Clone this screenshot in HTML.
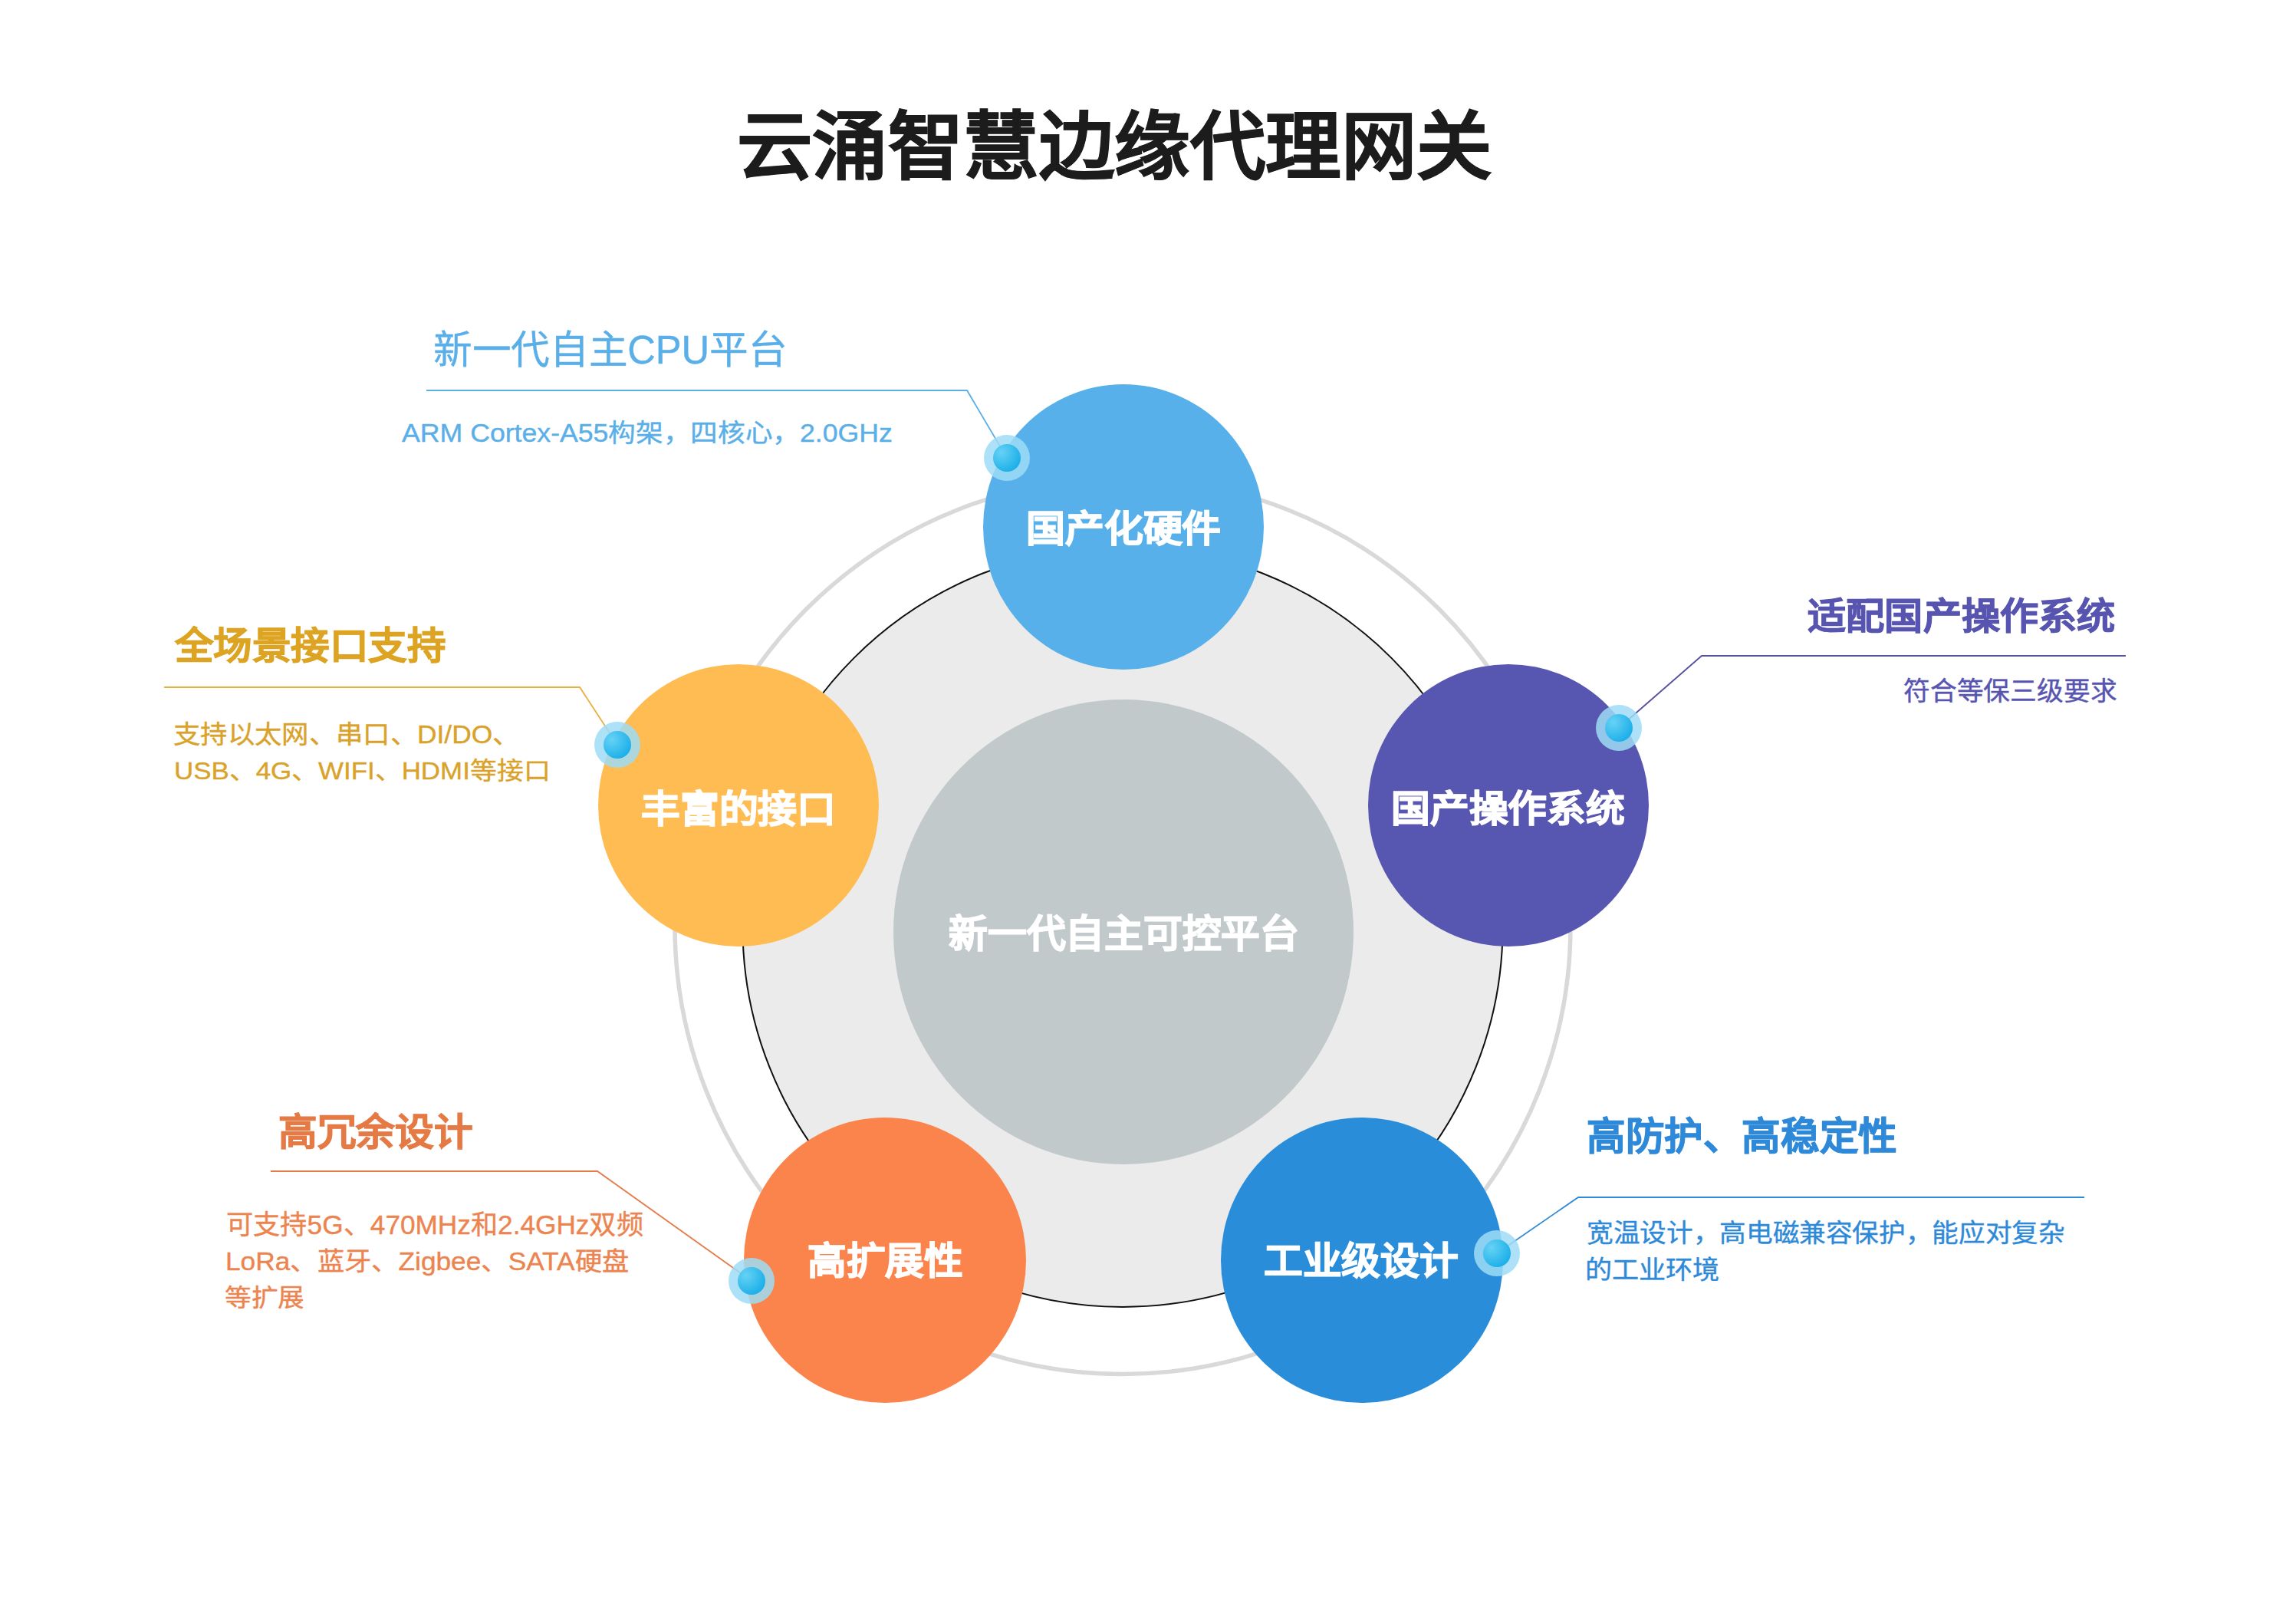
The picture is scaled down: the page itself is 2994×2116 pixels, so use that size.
<!DOCTYPE html>
<html lang="zh-CN"><head><meta charset="utf-8">
<style>
html,body{margin:0;padding:0;background:#fff;}
body{width:2994px;height:2116px;position:relative;overflow:hidden;font-family:"Liberation Sans",sans-serif;}
svg{position:absolute;left:0;top:0;}
.t{position:absolute;white-space:nowrap;line-height:1;transform-origin:0 0;}
</style></head>
<body>
<svg width="2994" height="2116" viewBox="0 0 2994 2116">
  <defs>
    <radialGradient id="dotg" cx="0.3" cy="0.3" r="0.8">
      <stop offset="0" stop-color="#66d2f5"/>
      <stop offset="1" stop-color="#17ade8"/>
    </radialGradient>
  </defs>
  <!-- outer ring -->
  <circle cx="1464" cy="1207.5" r="584" fill="none" stroke="#d9d9d9" stroke-width="5.5"/>
  <!-- light disc -->
  <circle cx="1464" cy="1208.3" r="495.6" fill="#ebebeb" stroke="#111" stroke-width="2"/>
  <!-- inner disc -->
  <ellipse cx="1465" cy="1215" rx="300" ry="303" fill="#c2c9cb"/>
  <!-- connector lines -->
  <g fill="none" stroke-width="1.8">
    <polyline points="556,509 1261,509 1313,597" stroke="#5aafe8"/>
    <polyline points="214,896 756,896 805,971" stroke="#e9b040"/>
    <polyline points="2772,855 2219,855 2111,949" stroke="#55519f"/>
    <polyline points="353,1527 779,1527 980,1670" stroke="#e67b4a"/>
    <polyline points="2718,1561 2058,1561 1952,1634" stroke="#2e8ad8"/>
  </g>
  <!-- circles -->
  <ellipse cx="1465" cy="687" rx="183" ry="186" fill="#57b0ea"/>
  <ellipse cx="963" cy="1050" rx="183" ry="184" fill="#ffbc53"/>
  <ellipse cx="1967" cy="1050" rx="183" ry="184" fill="#5756b0"/>
  <ellipse cx="1154" cy="1643" rx="184" ry="186" fill="#fa844b"/>
  <ellipse cx="1776" cy="1643" rx="184" ry="186" fill="#2a8dd9"/>
  <!-- dots -->
  <g>
    <circle cx="1313" cy="597" r="30" fill="#9edcf6" fill-opacity="0.85"/>
    <circle cx="1313" cy="597" r="18" fill="url(#dotg)"/>
    <circle cx="805" cy="971" r="30" fill="#9edcf6" fill-opacity="0.85"/>
    <circle cx="805" cy="971" r="18" fill="url(#dotg)"/>
    <circle cx="2111" cy="949" r="30" fill="#9edcf6" fill-opacity="0.85"/>
    <circle cx="2111" cy="949" r="18" fill="url(#dotg)"/>
    <circle cx="980" cy="1670" r="30" fill="#9edcf6" fill-opacity="0.85"/>
    <circle cx="980" cy="1670" r="18" fill="url(#dotg)"/>
    <circle cx="1952" cy="1634" r="30" fill="#9edcf6" fill-opacity="0.85"/>
    <circle cx="1952" cy="1634" r="18" fill="url(#dotg)"/>
  </g>
</svg>
<div class="t" id="title" style="left:961.12px;top:143.86px;font-size:91.00px;font-weight:700;color:#1c1c1c;transform:scale(1.08226,1.05611);-webkit-text-stroke:0.80px #1c1c1c;">云涌智慧边缘代理网关</div>
<div class="t" id="c1" style="left:1337.52px;top:665.60px;font-size:48.00px;font-weight:700;color:#fff;transform:scale(1.05969,0.99529);-webkit-text-stroke:1.30px #fff;">国产化硬件</div>
<div class="t" id="c2" style="left:835.54px;top:1030.55px;font-size:48.00px;font-weight:700;color:#fff;transform:scale(1.05874,1.02365);-webkit-text-stroke:1.30px #fff;">丰富的接口</div>
<div class="t" id="c3" style="left:1814.38px;top:1031.48px;font-size:48.00px;font-weight:700;color:#fff;transform:scale(1.05760,0.99313);-webkit-text-stroke:1.30px #fff;">国产操作系统</div>
<div class="t" id="c4" style="left:1053.16px;top:1620.06px;font-size:48.00px;font-weight:700;color:#fff;transform:scale(1.05588,1.01688);-webkit-text-stroke:1.30px #fff;">高扩展性</div>
<div class="t" id="c5" style="left:1648.24px;top:1620.23px;font-size:48.00px;font-weight:700;color:#fff;transform:scale(1.05580,1.02165);-webkit-text-stroke:1.30px #fff;">工业级设计</div>
<div class="t" id="c0" style="left:1236.98px;top:1193.70px;font-size:48.00px;font-weight:700;color:#fff;transform:scale(1.05779,1.03419);-webkit-text-stroke:1.30px #fff;">新一代自主可控平台</div>
<div class="t" id="h1" style="left:564.59px;top:431.31px;font-size:51.00px;font-weight:400;color:#5aafe8;transform:scale(0.99282,1.00607);-webkit-text-stroke:0.40px #5aafe8;">新一代自主CPU平台</div>
<div class="t" id="s1" style="left:524.04px;top:546.73px;font-size:35.00px;font-weight:400;color:#5aafe8;transform:scale(1.01863,0.95081);-webkit-text-stroke:0.40px #5aafe8;">ARM Cortex-A55构架，四核心，2.0GHz</div>
<div class="t" id="h2" style="left:228.29px;top:819.25px;font-size:48.00px;font-weight:700;color:#dda424;transform:scale(1.05097,1.00970);-webkit-text-stroke:0.90px #dda424;">全场景接口支持</div>
<div class="t" id="s2a" style="left:226.03px;top:941.37px;font-size:35.00px;font-weight:400;color:#d9a22a;transform:scale(1.00946,0.94548);-webkit-text-stroke:0.40px #d9a22a;">支持以太网、串口、DI/DO、</div>
<div class="t" id="s2b" style="left:227.27px;top:988.92px;font-size:35.00px;font-weight:400;color:#d9a22a;transform:scale(0.99714,0.91043);-webkit-text-stroke:0.40px #d9a22a;">USB、4G、WIFI、HDMI等接口</div>
<div class="t" id="h3" style="left:2356.50px;top:779.76px;font-size:48.00px;font-weight:700;color:#5755b0;transform:scale(1.04517,0.98992);-webkit-text-stroke:0.90px #5755b0;">适配国产操作系统</div>
<div class="t" id="s3" style="left:2481.78px;top:883.69px;font-size:35.00px;font-weight:400;color:#5755b0;transform:scale(0.99429,0.96121);-webkit-text-stroke:0.40px #5755b0;">符合等保三级要求</div>
<div class="t" id="h4" style="left:363.06px;top:1451.81px;font-size:48.00px;font-weight:700;color:#e57a45;transform:scale(1.05510,1.02084);-webkit-text-stroke:0.90px #e57a45;">高冗余设计</div>
<div class="t" id="s4a" style="left:294.73px;top:1579.03px;font-size:35.00px;font-weight:400;color:#ec8450;transform:scale(1.00594,0.99161);-webkit-text-stroke:0.40px #ec8450;">可支持5G、470MHz和2.4GHz双频</div>
<div class="t" id="s4b" style="left:293.66px;top:1628.12px;font-size:35.00px;font-weight:400;color:#ec8450;transform:scale(1.00810,0.93797);-webkit-text-stroke:0.40px #ec8450;">LoRa、蓝牙、Zigbee、SATA硬盘</div>
<div class="t" id="s4c" style="left:292.95px;top:1676.38px;font-size:35.00px;font-weight:400;color:#ec8450;transform:scale(0.99142,0.90068);-webkit-text-stroke:0.40px #ec8450;">等扩展</div>
<div class="t" id="h5" style="left:2069.39px;top:1458.10px;font-size:48.00px;font-weight:700;color:#2e8ad8;transform:scale(1.05397,1.03637);-webkit-text-stroke:0.90px #2e8ad8;">高防护、高稳定性</div>
<div class="t" id="s5a" style="left:2068.54px;top:1591.44px;font-size:35.00px;font-weight:400;color:#2e8ad8;transform:scale(0.98997,0.93014);-webkit-text-stroke:0.40px #2e8ad8;">宽温设计，高电磁兼容保护，能应对复杂</div>
<div class="t" id="s5b" style="left:2067.45px;top:1639.32px;font-size:35.00px;font-weight:400;color:#2e8ad8;transform:scale(1.00314,0.92923);-webkit-text-stroke:0.40px #2e8ad8;">的工业环境</div>
</body></html>
